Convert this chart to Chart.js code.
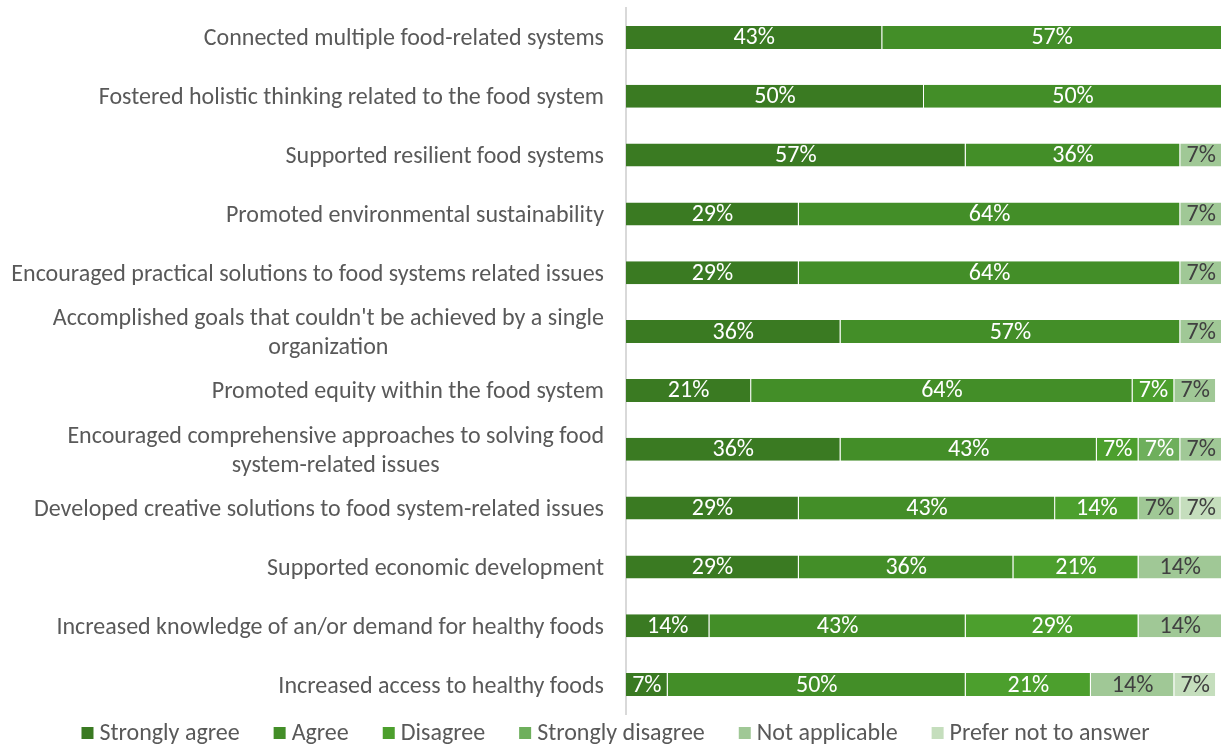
<!DOCTYPE html>
<html>
<head>
<meta charset="utf-8">
<script src="https://cdn.jsdelivr.net/npm/chart.js@4"></script>
<style>
    body { margin: 0; background: #fff; }
    #wrap { width: 1231px; height: 744px; position: relative; }
</style>
</head>
<body>
<div id="wrap"><canvas id="impactChart"></canvas></div>
<script>
const statements = [
    "Connected multiple food-related systems",
    "Fostered holistic thinking related to the food system",
    "Supported resilient food systems",
    "Promoted environmental sustainability",
    "Encouraged practical solutions to food systems related issues",
    ["Accomplished goals that couldn't be achieved by a single", "organization"],
    "Promoted equity within the food system",
    ["Encouraged comprehensive approaches to solving food", "system-related issues"],
    "Developed creative solutions to food system-related issues",
    "Supported economic development",
    "Increased knowledge of an/or demand for healthy foods",
    "Increased access to healthy foods"
];

const stronglyAgree    = [43, 50, 57, 29, 29, 36, 21, 36, 29, 29, 14, 7];
const agree            = [57, 50, 36, 64, 64, 57, 64, 43, 43, 36, 43, 50];
const disagree         = [0, 0, 0, 0, 0, 0, 7, 7, 14, 21, 29, 21];
const stronglyDisagree = [0, 0, 0, 0, 0, 0, 0, 7, 0, 0, 0, 0];
const notApplicable    = [0, 0, 7, 7, 7, 7, 7, 7, 7, 14, 14, 14];
const preferNot        = [0, 0, 0, 0, 0, 0, 0, 0, 7, 0, 0, 7];

const FONT = "Carlito, 'Open Sans', sans-serif";
const GREY = "#595959";

function series(label, data, color, textColor) {
    return {
        label,
        data,
        backgroundColor: color,
        borderColor: "rgba(255,255,255,0.12)",
        borderWidth: { top: 0, bottom: 0, left: 0, right: 1 },
        borderSkipped: false,
        textColor
    };
}

// percentage text in the middle of each segment
const segmentLabels = {
    id: "segmentLabels",
    afterDatasetsDraw(chart) {
        const ctx = chart.ctx;
        ctx.save();
        ctx.font = "24px " + FONT;
        ctx.textAlign = "center";
        ctx.textBaseline = "middle";
        chart.data.datasets.forEach((ds, i) => {
            const meta = chart.getDatasetMeta(i);
            meta.data.forEach((bar, j) => {
                const v = ds.data[j];
                if (!v) return;
                ctx.fillStyle = ds.textColor;
                ctx.fillText(v + "%", (bar.x + bar.base) / 2, bar.y + 1);
            });
        });
        ctx.restore();
    }
};

// statement labels: right aligned, wrapped lines centred on each other
const statementLabels = {
    id: "statementLabels",
    afterDraw(chart) {
        const ctx = chart.ctx;
        const y = chart.scales.y;
        const right = y.right - 22;
        const lineH = 29;
        ctx.save();
        ctx.font = "24px " + FONT;
        ctx.fillStyle = GREY;
        ctx.textBaseline = "middle";
        ctx.textAlign = "center";
        statements.forEach((s, i) => {
            const lines = Array.isArray(s) ? s : [s];
            const w = Math.max(...lines.map(l => ctx.measureText(l).width));
            const cy = y.getPixelForValue(i) + 2;
            lines.forEach((l, k) => {
                const ly = cy + (k - (lines.length - 1) / 2) * lineH;
                ctx.fillText(l, right - w / 2, ly);
            });
        });
        ctx.restore();
    }
};

// legend row under the plot, built from the datasets
const bottomLegend = {
    id: "bottomLegend",
    afterDraw(chart) {
        const ctx = chart.ctx;
        const box = 12, gap = 6, spacing = 34;
        ctx.save();
        ctx.font = "24px " + FONT;
        ctx.textBaseline = "middle";
        ctx.textAlign = "left";
        const items = chart.data.datasets.map(ds => ({
            text: ds.label,
            color: ds.backgroundColor,
            w: box + gap + ctx.measureText(ds.label).width
        }));
        const total = items.reduce((a, it) => a + it.w, 0) + spacing * (items.length - 1);
        let x = (chart.width - total) / 2;
        const y = 733;
        items.forEach(it => {
            ctx.fillStyle = it.color;
            ctx.fillRect(x, y - box / 2, box, box);
            ctx.fillStyle = GREY;
            ctx.fillText(it.text, x + box + gap, y + 1);
            x += it.w + spacing;
        });
        ctx.restore();
    }
};

new Chart(document.getElementById("impactChart"), {
    type: "bar",
    data: {
        labels: statements,
        datasets: [
            series("Strongly agree", stronglyAgree, "#3A7A22", "#ffffff"),
            series("Agree", agree, "#438E28", "#ffffff"),
            series("Disagree", disagree, "#4C9F2D", "#ffffff"),
            series("Strongly disagree", stronglyDisagree, "#6EAF5C", "#ffffff"),
            series("Not applicable", notApplicable, "#A0C896", "#404040"),
            series("Prefer not to answer", preferNot, "#C5DEBD", "#404040")
        ]
    },
    options: {
        indexAxis: "y",
        responsive: true,
        maintainAspectRatio: false,
        animation: false,
        layout: { padding: { top: 8, right: 9, bottom: 30, left: 0 } },
        datasets: {
            bar: { barPercentage: 0.39, categoryPercentage: 1 }
        },
        scales: {
            x: {
                stacked: true,
                min: 0,
                max: 100,
                display: false
            },
            y: {
                stacked: true,
                grid: { display: false },
                border: { display: true, color: "#D9D9D9", width: 2 },
                ticks: { display: false },
                afterFit(scale) { scale.width = 626; }
            }
        },
        plugins: {
            legend: { display: false },
            tooltip: { enabled: false }
        }
    },
    plugins: [segmentLabels, statementLabels, bottomLegend]
});
</script>
</body>
</html>
